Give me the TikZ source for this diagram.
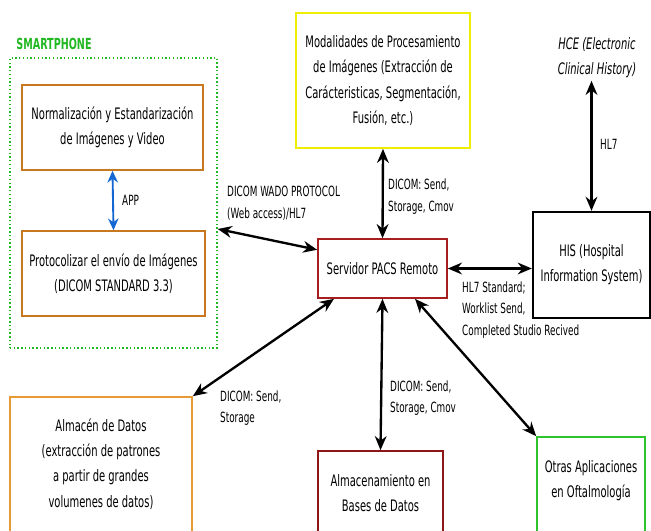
\documentclass[tikz,border=0pt]{standalone}
\usepackage{fontspec}
\setmainfont[FakeStretch=0.7]{DejaVu Sans Condensed}
\usetikzlibrary{arrows.meta}
\definecolor{appbrown}{HTML}{C8781E}
\definecolor{dataorange}{HTML}{E89A34}
\definecolor{modyellow}{HTML}{EEEE00}
\definecolor{pacsred}{HTML}{A61E1E}
\definecolor{dbred}{HTML}{8E1616}
\definecolor{ofgreen}{HTML}{2EC42E}
\definecolor{phonegreen}{HTML}{22B822}
\definecolor{appblue}{HTML}{1466D2}
\begin{document}
\begin{tikzpicture}[x=0.03cm,y=-0.03cm,
  box/.style={draw,line width=1.4pt,align=center,inner sep=0pt,font=\fontsize{13.5}{21.5}\selectfont},
  boxtext/.style={align=center,inner sep=0pt,font=\fontsize{13.5}{21.5}\selectfont},
  tag/.style={align=left,anchor=west,inner sep=0pt,font=\fontsize{12}{18.5}\selectfont},
  link/.style={{Stealth[length=12pt,width=10pt]}-{Stealth[length=12pt,width=10pt]},line width=2pt}]
\useasboundingbox (0,0) rectangle (651,530);
\node[draw=phonegreen,line width=1.2pt,dotted,minimum width=6.21cm,minimum height=8.7cm] (phone) at (113.5,203) {};
\node[font=\fontsize{13}{15}\selectfont\bfseries,text=phonegreen] (phonetitle) at (54,44) {SMARTPHONE};
\node[box,draw=appbrown,minimum width=5.43cm,minimum height=2.55cm] (norm) at (112.5,127.5) {Normalización y Estandarización\\de Imágenes y Video};
\node[box,draw=appbrown,minimum width=5.49cm,minimum height=2.55cm] (proto) at (113.5,273.5) {Protocolizar el envío de Imágenes\\(DICOM STANDARD 3.3)};
\node[box,draw=modyellow,minimum width=5.22cm,minimum height=4.05cm] (modal) at (383,80.5) {Modalidades de Procesamiento\\de Imágenes (Extracción de\\Carácteristicas, Segmentación,\\Fusión, etc.)};
\node[box,draw=pacsred,minimum width=3.87cm,minimum height=1.77cm] (pacs) at (382.5,268.5) {Servidor PACS Remoto};
\node[box,draw=black,line width=2pt,minimum width=3.51cm,minimum height=3.18cm] (his) at (591.5,265) {HIS (Hospital\\Information System)};
\node[boxtext,font=\fontsize{13.5}{21.5}\selectfont\itshape,inner sep=2pt] (hce) at (597,58) {HCE (Electronic\\Clinical History)};
\node[box,draw=dataorange,minimum width=5.46cm,minimum height=4.5cm] (almacen) at (101,472) {};
\node[boxtext] (almacentext) at (101,464) {Almacén de Datos\\(extracción de patrones\\a partir de grandes\\volumenes de datos)};
\node[box,draw=dbred,minimum width=3.75cm,minimum height=3cm] (bd) at (380.5,501) {};
\node[boxtext] (bdtext) at (380.5,493) {Almacenamiento en\\Bases de Datos};
\node[box,draw=ofgreen,minimum width=3.24cm,minimum height=3.3cm] (otras) at (591,492) {};
\node[boxtext] (otrastext) at (591,481) {Otras Aplicaciones\\en Oftalmología};
\draw[{Stealth[length=10pt,width=9pt]}-{Stealth[length=10pt,width=9pt]},line width=1.6pt,appblue] (norm.south) -- (proto.north);
\node[tag] (app) at (122,200) {APP};
\draw[link] (phone.-14.6) -- (pacs.164);
\node[tag] (wado) at (227,203) {DICOM WADO PROTOCOL\\(Web access)/HL7};
\draw[link] (modal.south) -- (pacs.north);
\node[tag] (dicomtop) at (388,196.5) {DICOM: Send,\\Storage, Cmov};
\draw[link] (his.north) -- (his.north |- hce.south);
\node[tag] (hl7) at (600,144) {HL7};
\draw[link] (pacs.east) -- (pacs.east -| his.west);
\node[tag] (worklist) at (462,310) {HL7 Standard;\\Worklist Send,\\Completed Studio Recived};
\draw[link] (pacs.212) -- (almacen.north east);
\node[tag] (dicomleft) at (220,408) {DICOM: Send,\\Storage};
\draw[link] (pacs.south) -- (bd.north);
\node[tag] (dicombottom) at (390,398) {DICOM: Send,\\Storage, Cmov};
\draw[link] (pacs.-43) -- (otras.north west);
\end{tikzpicture}
\end{document}
